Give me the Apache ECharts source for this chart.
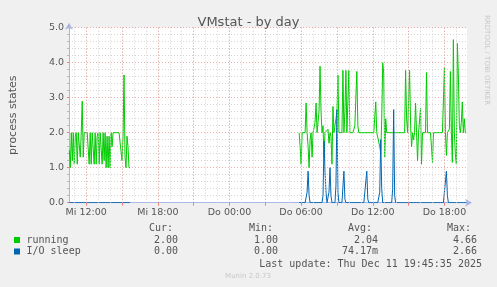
<!DOCTYPE html>
<html><head><meta charset="utf-8">
<script src="https://cdn.jsdelivr.net/npm/echarts@6/dist/echarts.min.js"></script>
<style>html,body{margin:0;padding:0;background:#f0f0f0;}#c{width:497px;height:287px;}</style>
</head><body><div id="c"></div>
<script>
// ---- data ----
const tickHours = [12, 18, 24, 30, 36, 42];
const tickLabels = ["Mi 12:00", "Mi 18:00", "Do 00:00", "Do 06:00", "Do 12:00", "Do 18:00"];
const majorGridHours = [12, 15, 18, 21, 24, 27, 30, 33, 36, 39, 42];
const minorGridHours = [11, 12, 13, 14, 15, 16, 17, 18, 19, 20, 21, 22, 23, 24, 25, 26, 27, 28, 29, 30, 31, 32, 33, 34, 35, 36, 37, 38, 39, 40, 41, 42, 43];
const seriesNames = ["running", "I/O sleep"];
const seriesColors = ["#00cc00", "#0066b3"];
// sample times in minutes since Mi 00:00, 5-minute steps
const part1Start = 635;
const part2Start = 1790;
const runningPart1 = [
  1.5,1.0,2.0,1.2,2.0,1.1,1.9,2.0,1.1,2.0,
  2.0,1.3,2.0,2.9,1.3,2.0,2.0,2.0,2.0,2.0,
  1.1,2.0,1.1,2.0,2.0,1.1,2.0,1.1,1.9,2.0,
  1.1,2.0,2.0,1.1,2.0,1.2,2.0,1.0,1.9,1.0,
  1.9,1.0,2.0,1.6,2.0,2.0,2.0,2.0,2.0,2.0,
  2.0,2.0,2.0,1.2,1.9,3.65,1.3,1.0,1.9,1.6,
  1.0,1.0];
const ioPart1 = [
  0,0,0,0,0,0,0,0,0,0,
  0,0,0,0,0,0,0,0,0,0,
  0,0,0,0,0,0,0,0,0,0,
  0,0,0,0,0,0,0,0,0,0,
  0,0,0,0,0,0,0,0,0,0,
  0,0,0,0,0,0,0,0,0,0,
  0,0];
const runningPart2 = [
  2.0,1.6,1.1,2.0,2.0,2.0,2.0,2.85,2.0,1.6,
  1.0,1.8,2.0,1.3,2.0,2.0,2.3,2.85,2.0,2.0,
  2.6,3.9,2.6,2.0,2.2,1.3,2.0,2.0,2.0,2.1,
  1.7,2.0,1.9,1.1,2.75,2.0,2.0,2.0,2.6,3.65,
  2.0,2.0,2.0,2.0,3.78,2.0,2.6,3.78,2.0,2.0,
  3.78,2.0,2.0,2.0,2.0,2.0,2.2,3.0,3.75,2.2,
  2.0,2.0,2.0,2.0,2.0,2.0,2.0,2.0,2.0,2.0,
  2.0,2.0,2.0,2.0,2.0,2.0,2.0,2.88,2.0,2.0,
  2.0,1.6,1.4,2.4,4.0,3.7,1.3,2.4,2.0,2.0,
  2.0,2.0,2.0,2.0,2.0,2.0,2.0,2.0,2.0,2.0,
  2.0,2.0,2.0,2.0,2.0,2.0,2.0,3.78,2.4,2.0,
  2.0,3.78,2.2,1.6,2.0,1.8,2.0,2.85,2.0,1.2,
  2.0,2.0,2.7,1.1,2.0,2.0,2.0,2.0,3.72,2.0,
  2.0,2.0,2.0,1.6,1.15,2.0,2.0,2.0,2.0,2.0,
  2.0,2.0,2.0,2.0,2.0,2.0,3.86,2.0,1.35,2.0,
  2.0,2.1,3.75,2.0,1.15,4.66,2.0,1.4,1.1,4.55,
  3.7,2.2,2.0,2.3,2.88,2.0,2.4,2.0,2.0];
const ioPart2 = [
  0,0,0,0,0,0,0,0,0.3,0.9,
  0.2,0,0,0,0,0,0,0,0,0,
  0,0,0,0,0.2,1.75,0.9,0.3,0,0,
  0.3,1.0,0.2,0,0,0,0,0.5,2.66,0.3,
  0,0,0,0,0,0.9,0.1,0,0,0,
  0,0,0,0,0,0,0,0,0,0,
  0,0,0,0,0,0,0,0,0.9,0.1,
  0,0,0,0,0,0,0,0,0,0,
  0,0.3,1.8,0.4,0,0,0,0,0,0,
  0,0,0,0,0.4,2.66,0.2,0,0,0,
  0,0,0,0,0,0,0,0,0,0,
  0,0,0,0,0,0,0,0,0,0,
  0,0,0,0,0,0,0,0,0,0,
  0,0,0,0,0,0,0,0,0,0,
  0,0,0,0,0,0,0,0,0.9,0.2,
  0,0,0,0,0,0,0,0,0,0,
  0,0,0,0,0,0,0,0,0];
const statHeaders = ["Cur:", "Min:", "Avg:", "Max:"];
const curValues = ["2.00", "0.00"];
const minValues = ["1.00", "0.00"];
const avgValues = ["2.04", "74.17m"];
const maxValues = ["4.66", "2.66"];
const lastUpdate = "Last update: Thu Dec 11 19:45:35 2025";

// ---- build ----
function build(p1, p2) {
  const d = [];
  p1.forEach((v, i) => d.push([(part1Start + 5 * i) / 60, v]));
  d.push([(part1Start + 5 * p1.length) / 60, '-']);
  p2.forEach((v, i) => d.push([(part2Start + 5 * i) / 60, v]));
  return d;
}
const xMin = 12 - 17.3 / 12;
const xMax = xMin + 400 / 12;
const txt = '#555';
const mono = '"DejaVu Sans Mono", monospace';
const sans = '"DejaVu Sans", sans-serif';
const axisCol = '#a9b5e6';
const redGrid = 'rgba(232,120,120,0.6)';
const grayGrid = '#d4d4d4';

const chart = echarts.init(document.getElementById('c'), null, {renderer: 'canvas'});
const graphics = [];
graphics.push({type: 'text', x: 487, y: 15, rotation: -Math.PI / 2, style: {text: 'RRDTOOL / TOBI OETIKER', fontSize: 7, fill: '#c8c8c8', fontFamily: sans, textAlign: 'left', textVerticalAlign: 'middle'}});
const hdrX = [149, 249, 348, 447];
statHeaders.forEach((h, i) => graphics.push({type: 'text', x: hdrX[i], y: 228.5, style: {text: h, fontSize: 10, fill: txt, fontFamily: mono, textVerticalAlign: 'middle'}}));
const rowsY = [240, 251.5];
const valX = [178, 278, 378, 477];
seriesNames.forEach((n, r) => {
  graphics.push({type: 'rect', shape: {x: 14, y: rowsY[r] - 3, width: 6, height: 6}, style: {fill: seriesColors[r]}});
  graphics.push({type: 'text', x: 26.5, y: rowsY[r], style: {text: n, fontSize: 10, fill: txt, fontFamily: mono, textVerticalAlign: 'middle'}});
  [curValues, minValues, avgValues, maxValues].forEach((arr, c) => {
    graphics.push({type: 'text', x: valX[c], y: rowsY[r], style: {text: arr[r], fontSize: 10, fill: txt, fontFamily: mono, textAlign: 'right', textVerticalAlign: 'middle'}});
  });
});
graphics.push({type: 'text', x: 482, y: 264, style: {text: lastUpdate, fontSize: 10, fill: txt, fontFamily: mono, textAlign: 'right', textVerticalAlign: 'middle'}});
graphics.push({type: 'text', x: 248, y: 276, style: {text: 'Munin 2.0.73', fontSize: 7, fill: '#c8c8c8', fontFamily: sans, textAlign: 'center', textVerticalAlign: 'middle'}});

chart.setOption({
  backgroundColor: '#f0f0f0',
  animation: false,
  title: {text: 'VMstat - by day', left: 'center', top: 11, textStyle: {fontSize: 13, fontWeight: 'normal', color: txt, fontFamily: sans}},
  grid: {left: 67, right: 30, top: 27.7, bottom: 84.3, show: true, backgroundColor: '#ffffff', borderWidth: 0},
  xAxis: {
    type: 'value', min: xMin, max: xMax,
    axisLine: {show: true, lineStyle: {color: axisCol, width: 1}, symbol: ['none', 'arrow'], symbolSize: [6, 7], symbolOffset: [0, 5]},
    axisTick: {show: true, customValues: majorGridHours, length: 3, lineStyle: {color: '#e88080'}},
    axisLabel: {customValues: tickHours, formatter: v => tickLabels[tickHours.indexOf(Math.round(v))] || '', color: txt, fontSize: 9.5, fontFamily: sans, margin: 5},
    splitLine: {show: false}
  },
  yAxis: {
    type: 'value', min: 0, max: 5, interval: 1,
    name: 'process states', nameLocation: 'middle', nameGap: 50,
    nameTextStyle: {fontSize: 11, color: txt, fontFamily: sans},
    axisLine: {show: true, lineStyle: {color: axisCol, width: 1}, symbol: ['none', 'arrow'], symbolSize: [6, 7], symbolOffset: [0, 5]},
    axisTick: {show: true, length: 2, lineStyle: {color: '#e88080'}},
    minorTick: {show: true, splitNumber: 5, length: 2, lineStyle: {color: '#bbbbbb'}},
    axisLabel: {formatter: v => v.toFixed(1), color: txt, fontSize: 9.5, fontFamily: sans, margin: 5},
    splitLine: {show: true, lineStyle: {color: redGrid, type: [1, 2]}},
    minorSplitLine: {show: true, lineStyle: {color: grayGrid, type: [1, 2]}}
  },
  series: [
    {type: 'line', data: [], z: 1, silent: true, markLine: {silent: true, symbol: ['none', 'none'], label: {show: false}, animation: false,
      lineStyle: {color: grayGrid, type: [1, 2], width: 1}, data: minorGridHours.map(h => ({xAxis: h}))}},
    {type: 'line', data: [], z: 1, silent: true, markLine: {silent: true, symbol: ['none', 'none'], label: {show: false}, animation: false,
      lineStyle: {color: redGrid, type: [1, 2], width: 1}, data: majorGridHours.map(h => ({xAxis: h}))}},
    {name: seriesNames[0], type: 'line', data: build(runningPart1, runningPart2), showSymbol: false, z: 3,
      lineStyle: {color: seriesColors[0], width: 1}, itemStyle: {color: seriesColors[0]}},
    {name: seriesNames[1], type: 'line', data: build(ioPart1, ioPart2), showSymbol: false, z: 4,
      lineStyle: {color: seriesColors[1], width: 1}, itemStyle: {color: seriesColors[1]}}
  ],
  graphic: graphics
});
</script></body></html>
